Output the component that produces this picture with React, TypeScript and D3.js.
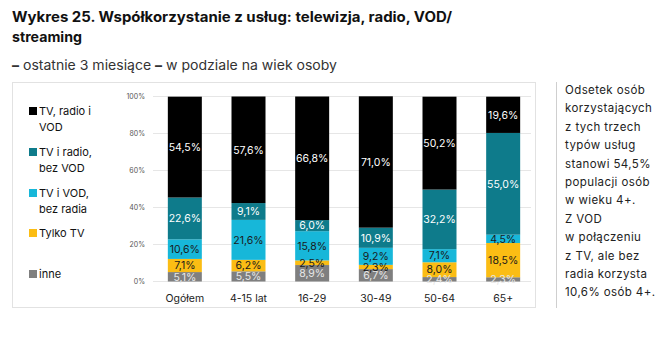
import React from "react";
import * as d3 from "d3";

const categories = ["Ogółem", "4-15 lat", "16-29", "30-49", "50-64", "65+"];
const seriesNames = ["inne", "Tylko TV", "TV i VOD, bez radia", "TV i radio, bez VOD", "TV, radio i VOD"];
const inne = [5.1, 5.5, 8.9, 6.7, 2.4, 2.3];
const tylkoTV = [7.1, 6.2, 2.5, 2.3, 8.0, 18.5];
const tvVod = [10.6, 21.6, 15.8, 9.2, 7.1, 4.5];
const tvRadio = [22.6, 9.1, 6.0, 10.9, 32.2, 55.0];
const all3 = [54.5, 57.6, 66.8, 71.0, 50.2, 19.6];
const yTicks = [0, 20, 40, 60, 80, 100];
const colors = ["#7f7f7f", "#fbbd14", "#17b7d9", "#0e7b8b", "#000000"];
const labelColors = ["#e8e8e8", "#1a1a1a", "#1a1a1a", "#ffffff", "#ffffff"];
const legendItems = [
  { lines: ["TV, radio i", "VOD"], color: "#000000", y: 107 },
  { lines: ["TV i radio,", "bez VOD"], color: "#0e7b8b", y: 148 },
  { lines: ["TV i VOD,", "bez radia"], color: "#17b7d9", y: 189 },
  { lines: ["Tylko TV"], color: "#fbbd14", y: 229 },
  { lines: ["inne"], color: "#7f7f7f", y: 270 },
];
const sideText = [
  "Odsetek osób",
  "korzystających",
  "z tych trzech",
  "typów usług",
  "stanowi 54,5%",
  "populacji osób",
  "w wieku 4+.",
  "Z VOD",
  "w połączeniu",
  "z TV, ale bez",
  "radia korzysta",
  "10,6% osób 4+.",
];

const seriesValues = [inne, tylkoTV, tvVod, tvRadio, all3];
const rows = categories.map((c, i) => {
  const r: any = { cat: c };
  seriesNames.forEach((s, k) => (r[s] = seriesValues[k][i]));
  return r;
});

const FONT = "Inter, 'Open Sans', sans-serif";
const fmt = (v: number) => v.toFixed(1).replace(".", ",") + "%";

export default function App() {
  const x = d3
    .scaleBand<string>()
    .domain(categories)
    .range([153, 535])
    .paddingInner(0.466)
    .paddingOuter(0.233);
  const y = d3.scaleLinear().domain([0, 100]).range([281.5, 96.5]);
  const stack = d3.stack<any>().keys(seriesNames);
  const stacked = stack(rows);

  return (
    <svg
      width={665}
      height={347}
      style={{ position: "absolute", left: 0, top: 0, background: "#fff" }}
      fontFamily={FONT}
    >
      <rect x={0} y={0} width={665} height={347} fill="#fff" />
      <text x={12} y={22} fontSize={14} fontWeight={700} fill="#111" textLength={440} lengthAdjust="spacingAndGlyphs">
        Wykres 25. Współkorzystanie z usług: telewizja, radio, VOD/
      </text>
      <text x={12} y={42} fontSize={14} fontWeight={700} fill="#111" textLength={70} lengthAdjust="spacingAndGlyphs">
        streaming
      </text>
      <text x={12} y={70} fontSize={13.5} fill="#333" textLength={325} lengthAdjust="spacingAndGlyphs">
        <tspan fontWeight={800}>–</tspan> ostatnie 3 miesiące{" "}
        <tspan fontWeight={800}>–</tspan> w podziale na wiek osoby
      </text>

      <rect x={12.5} y={82.5} width={523} height={225} fill="none" stroke="#e2e2e2" />
      <line x1={556.5} x2={556.5} y1={82} y2={308} stroke="#cfcfcf" />

      {yTicks.map((t) => (
        <g key={t}>
          <line x1={153} x2={531} y1={y(t)} y2={y(t)} stroke="#e6e6e6" strokeWidth={1} />
          <text x={145} y={y(t) + 2.5} fontSize={7} textAnchor="end" fill="#555">
            {t}%
          </text>
        </g>
      ))}

      {stacked.map((layer, k) => (
        <g key={layer.key}>
          {layer.map((d, i) => {
            const cat = categories[i];
            const x0 = x(cat)!;
            const y1 = y(d[1]);
            const y0 = y(d[0]);
            return (
              <rect key={cat} x={x0} y={y1} width={x.bandwidth()} height={y0 - y1} fill={colors[k]} />
            );
          })}
        </g>
      ))}
      {stacked.map((layer, k) => (
        <g key={layer.key + "l"}>
          {layer.map((d, i) => {
            const cat = categories[i];
            const cx = x(cat)! + x.bandwidth() / 2;
            const cy = (y(d[0]) + y(d[1])) / 2;
            return (
              <text
                key={cat}
                x={cx}
                y={cy + 3.8}
                fontSize={10.5}
                textAnchor="middle"
                fill={labelColors[k]}
              >
                {fmt(seriesValues[k][i])}
              </text>
            );
          })}
        </g>
      ))}

      {categories.map((c) => (
        <text key={c} x={x(c)! + x.bandwidth() / 2} y={302} fontSize={10.5} textAnchor="middle" fill="#222">
          {c}
        </text>
      ))}

      {legendItems.map((l) => (
        <g key={l.lines[0]}>
          <rect x={29} y={l.y} width={8} height={8} fill={l.color} />
          {l.lines.map((ln, j) => (
            <text key={j} x={39} y={l.y + 7.5 + j * 16} fontSize={11} fill="#111">
              {ln}
            </text>
          ))}
        </g>
      ))}

      {sideText.map((t, i) => (
        <text key={i} x={565} y={94 + i * 18.4} fontSize={11.5} letterSpacing={0.4} fill="#222">
          {t}
        </text>
      ))}
    </svg>
  );
}
